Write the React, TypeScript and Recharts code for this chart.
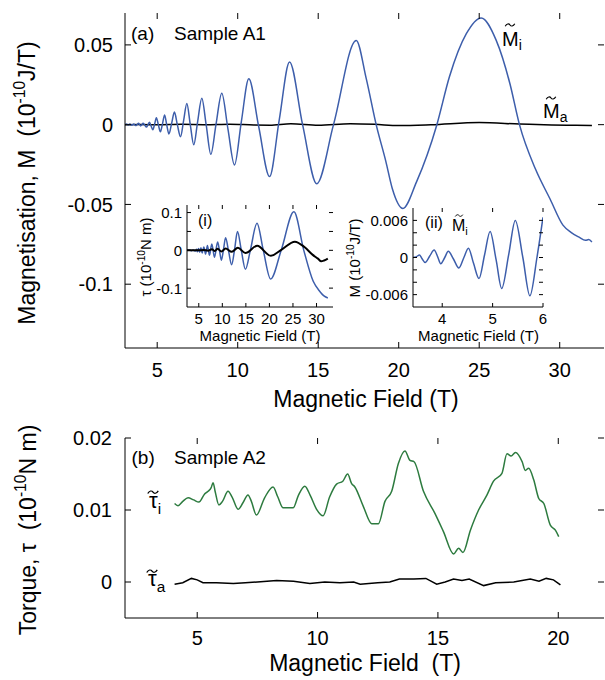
import React from 'react';
import { LineChart, Line, XAxis, YAxis } from 'recharts';

const FONT = '"Liberation Sans", Arial, Helvetica, sans-serif';
const BLUE = '#3d5eab';
const GREEN = '#2d7b3f';
const BLACK = '#000000';

// ---------- Panel (a): Sample A1, magnetisation ----------
const A_X_TICKS = [5, 10, 15, 20, 25, 30];
const A_Y_TICKS = [-0.1, -0.05, 0, 0.05];
const A_Y_LABELS = ['-0.1', '-0.05', '0', '0.05'];

const A_MI: number[][] = [
  [3.0, 0.0], [3.1, 0.0004], [3.2, -0.0003], [3.3, 0.0004], [3.42, -0.0003], [3.55, 0.0004],
  [3.66, -0.0006], [3.75, 0.0], [3.84, 0.0009], [3.91, 0.0], [3.97, -0.0008], [4.05, 0.0],
  [4.12, 0.0009], [4.22, -0.0002], [4.33, -0.0015], [4.43, 0.0], [4.52, 0.0015], [4.62, -0.0008],
  [4.73, -0.0032], [4.84, 0.0004], [4.95, 0.0044], [5.07, 0.0], [5.2, -0.0045], [5.33, 0.0006],
  [5.46, 0.006], [5.59, 0.0], [5.73, -0.0058], [5.9, 0.001], [6.07, 0.0079], [6.25, 0.0],
  [6.45, -0.0076], [6.64, 0.0025], [6.84, 0.0133], [7.05, 0.0004], [7.27, -0.0126], [7.51, 0.0018],
  [7.77, 0.0166], [8.04, 0.0], [8.33, -0.0186], [8.65, 0.0], [9.01, 0.0197], [9.39, -0.0025],
  [9.8, -0.0253], [10.22, 0.0015], [10.69, 0.0288], [11.3, -0.001], [11.98, -0.0325], [12.58, 0.003],
  [13.22, 0.0393], [14.03, 0.0], [14.91, -0.037], [15.95, 0.0], [17.36, 0.0528], [17.98, 0.029],
  [18.6, 0.0], [19.2, -0.023], [19.6, -0.04], [20.26, -0.0525], [21.1, -0.036], [22.37, 0.0],
  [23.15, 0.03], [24.2, 0.057], [25.12, 0.0669], [26.05, 0.053], [26.9, 0.026], [27.5, 0.0],
  [28.5, -0.028], [29.4, -0.0466], [30.2, -0.063], [30.7, -0.0675], [31.2, -0.0705], [31.6, -0.0725],
  [31.8, -0.072], [32.0, -0.0735],
];

const A_MA: number[][] = [
  [3.0, 0.0], [4.0, 0.0001], [5.0, -0.0001], [6.5, 0.0002], [8.0, 0.0], [9.5, 0.0003],
  [11.0, -0.0002], [12.0, -0.0003], [13.3, 0.0006], [15.0, -0.0004], [17.0, 0.0006], [18.5, 0.0002],
  [20.0, -0.0006], [22.0, -0.0001], [25.0, 0.0013], [27.5, 0.0004], [29.5, -0.0002], [31.0, -0.0004],
  [32.0, -0.0005],
];

// ---------- Inset (i): torque ----------
const I_X_TICKS = [5, 10, 15, 20, 25, 30];
const I_Y_TICKS = [-0.1, -0.05, 0, 0.05, 0.1];
const I_Y_LABELED = [-0.1, 0, 0.1];
const I_Y_LABELS = ['-0.1', '0', '0.1'];

const I_TI: number[][] = [
  [2.5, 0.0], [3.0, 0.001], [3.4, -0.001], [3.8, 0.0012], [4.1, -0.0015], [4.33, -0.002],
  [4.52, 0.003], [4.73, -0.004], [4.95, 0.005], [5.2, -0.005], [5.46, 0.007], [5.73, -0.007],
  [6.07, 0.009], [6.45, -0.01], [6.84, 0.013], [7.27, -0.013], [7.77, 0.017], [8.33, -0.018],
  [9.01, 0.022], [9.39, 0.0], [9.8, -0.026], [10.22, 0.0], [10.69, 0.033], [11.3, 0.0],
  [11.98, -0.038], [12.58, 0.0], [13.22, 0.05], [14.03, 0.0], [14.91, -0.05], [15.95, 0.0],
  [17.36, 0.072], [18.7, 0.0], [20.26, -0.076], [22.5, 0.0], [25.2, 0.102], [27.3, 0.0],
  [29.3, -0.082], [30.7, -0.109], [31.5, -0.12], [32.4, -0.126],
];

const I_TA: number[][] = [
  [2.5, 0.0], [5.0, 0.0], [6.0, 0.001], [7.0, -0.001], [7.8, 0.003], [8.4, -0.002],
  [9.0, 0.004], [9.8, -0.003], [10.7, 0.005], [12.0, -0.004], [13.3, 0.007], [14.9, -0.007],
  [17.4, 0.012], [20.3, -0.0145], [22.6, 0.002], [25.4, 0.023], [27.5, 0.008], [29.2, -0.012],
  [30.3, -0.022], [31.0, -0.029], [31.6, -0.027], [32.4, -0.022],
];

// ---------- Inset (ii): low-field magnetisation ----------
const II_X_TICKS = [4, 5, 6];
const II_Y_TICKS = [-0.006, -0.004, -0.002, 0, 0.002, 0.004, 0.006];
const II_Y_LABELED = [-0.006, 0, 0.006];
const II_Y_LABELS = ['-0.006', '0', '0.006'];

const II_MI: number[][] = [
  [3.42, 0.0], [3.48, 0.0001], [3.55, 0.0004], [3.6, -0.0002], [3.66, -0.0008], [3.75, 0.0002],
  [3.84, 0.0012], [3.91, 0.0001], [3.97, -0.001], [4.05, 0.0], [4.12, 0.001], [4.22, -0.0002],
  [4.33, -0.0017], [4.43, 0.0], [4.52, 0.0015], [4.62, -0.0009], [4.73, -0.0034], [4.84, 0.0004],
  [4.95, 0.0042], [5.07, -0.0004], [5.18, -0.005], [5.32, 0.0005], [5.45, 0.006], [5.6, 0.0],
  [5.74, -0.0062], [5.88, 0.0], [6.0, 0.0065],
];

// ---------- Panel (b): Sample A2, torque ----------
const B_X_TICKS = [5, 10, 15, 20];
const B_Y_TICKS = [0, 0.01, 0.02];
const B_Y_LABELS = ['0', '0.01', '0.02'];

const B_TI: number[][] = [
  [4.06, 0.0109], [4.2, 0.0106], [4.4, 0.0112], [4.62, 0.0117], [4.85, 0.0114], [5.07, 0.0111],
  [5.3, 0.0122], [5.45, 0.0126], [5.58, 0.0131], [5.66, 0.0138], [5.75, 0.0125], [5.9, 0.0107],
  [6.05, 0.0112], [6.28, 0.0126], [6.45, 0.0118], [6.7, 0.0101], [6.9, 0.011], [7.11, 0.0121],
  [7.25, 0.0112], [7.46, 0.0093], [7.8, 0.0117], [8.15, 0.0132], [8.35, 0.0118], [8.57, 0.0103],
  [8.99, 0.0103], [9.2, 0.012], [9.47, 0.0133], [9.7, 0.012], [9.96, 0.0101], [10.23, 0.0092],
  [10.5, 0.0118], [10.79, 0.0136], [11.05, 0.014], [11.25, 0.015], [11.41, 0.0137], [11.55, 0.0132],
  [11.9, 0.0105], [12.25, 0.0081], [12.53, 0.0081], [12.8, 0.0112], [13.08, 0.0126], [13.36, 0.0165],
  [13.63, 0.0182], [13.84, 0.0169], [14.01, 0.0167], [14.4, 0.0126], [14.88, 0.0095], [15.23, 0.007],
  [15.65, 0.0039], [15.86, 0.0047], [16.04, 0.0041], [16.35, 0.0072], [16.69, 0.01], [17.04, 0.0121],
  [17.31, 0.014], [17.66, 0.0151], [17.87, 0.0178], [18.04, 0.0175], [18.22, 0.018], [18.5, 0.0167],
  [18.63, 0.0155], [18.77, 0.0158], [18.98, 0.0142], [19.19, 0.0116], [19.4, 0.0109], [19.67, 0.0079],
  [19.88, 0.0072], [20.02, 0.0063],
];

const B_TA: number[][] = [
  [4.06, -0.0003], [4.4, -0.0001], [4.76, 0.0005], [5.0, 0.0003], [5.24, -0.0001], [5.8, -0.0001],
  [6.5, -0.0002], [7.0, -0.0001], [7.5, 0.0], [8.3, 0.0002], [9.0, 0.0001], [9.68, -0.0002],
  [10.3, 0.0], [10.93, -0.0001], [11.5, 0.0], [11.77, -0.0003], [12.5, -0.0001], [13.0, 0.0],
  [13.4, 0.0004], [14.0, 0.0004], [14.5, 0.0005], [14.95, -0.0003], [15.3, 0.0], [15.65, 0.0004],
  [16.0, 0.0002], [16.3, 0.0004], [16.9, -0.0005], [17.4, -0.0001], [18.15, 0.0], [18.84, 0.0004],
  [19.2, 0.0001], [19.5, 0.0005], [19.8, 0.0003], [20.09, -0.0004],
];

const toPts = (arr: number[][]) => arr.map(([b, v]) => ({ b, v }));

type Box = { l: number; t: number; r: number; b: number };

function labelFor(v: number, vals: number[], labels: string[]): string | null {
  const i = vals.findIndex((x) => Math.abs(x - v) < 1e-9);
  return i >= 0 ? labels[i] : null;
}

function makeXTick(box: Box, len: number, fs: number, base: number) {
  return (p: any) => {
    const x = p.x;
    const v = p.payload.value;
    return (
      <g>
        <line x1={x} x2={x} y1={box.b} y2={box.b - len} stroke={BLACK} strokeWidth={1} />
        <line x1={x} x2={x} y1={box.t} y2={box.t + len} stroke={BLACK} strokeWidth={1} />
        <text x={x} y={box.b + base} textAnchor="middle" fontSize={fs} fontFamily={FONT} fill={BLACK}>
          {String(v)}
        </text>
      </g>
    );
  };
}

function makeYTick(box: Box, len: number, fs: number, gap: number, vals: number[], labels: string[]) {
  return (p: any) => {
    const y = p.y;
    const v = p.payload.value;
    const lab = labelFor(v, vals, labels);
    return (
      <g>
        <line x1={box.l} x2={box.l + len} y1={y} y2={y} stroke={BLACK} strokeWidth={1} />
        <line x1={box.r - len} x2={box.r} y1={y} y2={y} stroke={BLACK} strokeWidth={1} />
        {lab !== null && (
          <text x={box.l - gap} y={y + fs * 0.36} textAnchor="end" fontSize={fs} fontFamily={FONT} fill={BLACK}>
            {lab}
          </text>
        )}
      </g>
    );
  };
}

type Series = { data: { b: number; v: number }[]; color: string; width: number; curve: 'monotone' | 'linear' };

function Panel(props: {
  width: number; height: number; box: Box;
  xDomain: [number, number]; yDomain: [number, number];
  xTicks: number[]; yTicks: number[]; yVals: number[]; yLabels: string[];
  len: number; fs: number; xBase: number; yGap: number; series: Series[];
}) {
  const { width, height, box, xDomain, yDomain, xTicks, yTicks, yVals, yLabels, len, fs, xBase, yGap, series } = props;
  return (
    <LineChart width={width} height={height} margin={{ top: box.t, right: width - box.r, bottom: 0, left: 0 }}>
      <XAxis
        xAxisId={0} dataKey="b" type="number" domain={xDomain} allowDataOverflow ticks={xTicks} interval={0}
        height={height - box.b} tickSize={0} tickLine={false} axisLine={{ stroke: BLACK }}
        tick={makeXTick(box, len, fs, xBase)}
      />
      <XAxis
        xAxisId="top" orientation="top" dataKey="b" type="number" domain={xDomain} allowDataOverflow
        height={0} tick={false} tickLine={false} axisLine={{ stroke: BLACK }}
      />
      <YAxis
        yAxisId={0} type="number" domain={yDomain} allowDataOverflow ticks={yTicks} interval={0}
        width={box.l} tickSize={0} tickLine={false} axisLine={{ stroke: BLACK }}
        tick={makeYTick(box, len, fs, yGap, yVals, yLabels)}
      />
      <YAxis
        yAxisId="right" orientation="right" type="number" domain={yDomain} allowDataOverflow
        width={0} tick={false} tickLine={false} axisLine={{ stroke: BLACK }}
      />
      {series.map((s, i) => (
        <Line
          key={i} xAxisId={0} yAxisId={0} data={s.data} dataKey="v" type={s.curve}
          stroke={s.color} strokeWidth={s.width} dot={false} activeDot={false} isAnimationActive={false}
        />
      ))}
    </LineChart>
  );
}

const Txt = (p: { x: number; base: number; fs: number; center?: boolean; children: React.ReactNode }) => (
  <div
    style={{
      position: 'absolute', left: p.x, top: p.base - 0.8465 * p.fs, fontSize: p.fs, lineHeight: 1,
      fontFamily: FONT, whiteSpace: 'nowrap', color: '#000',
      transform: p.center ? 'translateX(-50%)' : undefined,
    }}
  >
    {p.children}
  </div>
);

const Rot = (p: { cx: number; cy: number; fs: number; children: React.ReactNode }) => (
  <div
    style={{
      position: 'absolute', left: p.cx, top: p.cy, fontSize: p.fs, lineHeight: 1, fontFamily: FONT,
      whiteSpace: 'nowrap', color: '#000', transform: 'translate(-50%, -50%) rotate(-90deg)',
    }}
  >
    {p.children}
  </div>
);

const Sup = ({ children }: { children: React.ReactNode }) => (
  <span style={{ fontSize: '0.68em', position: 'relative', top: '-0.62em' }}>{children}</span>
);
const Sub = ({ children, shift = 0.35 }: { children: React.ReactNode; shift?: number }) => (
  <span style={{ fontSize: '0.7em', position: 'relative', top: `${shift}em` }}>{children}</span>
);
// letter with a tilde accent (drawn as a small stroke, not text) above it
const Tl = ({ ch, top = -0.17 }: { ch: string; top?: number }) => (
  <span style={{ position: 'relative', display: 'inline-block' }}>
    {ch}
    <svg
      viewBox="0 0 12 5" preserveAspectRatio="none"
      style={{ position: 'absolute', left: '50%', top: `${top}em`, width: '0.55em', height: '0.2em', transform: 'translateX(-50%)', overflow: 'visible' }}
    >
      <path d="M0.8,4 C2.5,0.6 4.8,0.4 6,2.4 S9.5,4.4 11.2,1" fill="none" stroke="#000" strokeWidth={1.3} />
    </svg>
  </span>
);

export default function App() {
  const boxA: Box = { l: 125, t: 13, r: 604, b: 348 };
  const boxB: Box = { l: 125, t: 18, r: 604, b: 198 };
  const boxI: Box = { l: 67, t: 10, r: 213, b: 112 };
  const boxII: Box = { l: 73, t: 10, r: 203, b: 109 };

  return (
    <div style={{ position: 'absolute', left: 0, top: 0, width: 605, height: 680, background: '#fff', overflow: 'hidden', fontFamily: FONT }}>
      <div style={{ position: 'absolute', left: 0, top: 0 }}>
        <Panel
          width={605} height={420} box={boxA} xDomain={[3, 32.75]} yDomain={[-0.14, 0.07]}
          xTicks={A_X_TICKS} yTicks={A_Y_TICKS} yVals={A_Y_TICKS} yLabels={A_Y_LABELS}
          len={6} fs={20} xBase={29} yGap={12}
          series={[
            { data: toPts(A_MA), color: BLACK, width: 1.5, curve: 'monotone' },
            { data: toPts(A_MI), color: BLUE, width: 1.5, curve: 'monotone' },
          ]}
        />
      </div>
      <div style={{ position: 'absolute', left: 0, top: 420 }}>
        <Panel
          width={605} height={260} box={boxB} xDomain={[2, 21.9]} yDomain={[-0.005, 0.02]}
          xTicks={B_X_TICKS} yTicks={B_Y_TICKS} yVals={B_Y_TICKS} yLabels={B_Y_LABELS}
          len={6} fs={20} xBase={27} yGap={13}
          series={[
            { data: toPts(B_TA), color: BLACK, width: 1.5, curve: 'linear' },
            { data: toPts(B_TI), color: GREEN, width: 1.5, curve: 'monotone' },
          ]}
        />
      </div>
      <div style={{ position: 'absolute', left: 120, top: 195 }}>
        <Panel
          width={224} height={152} box={boxI} xDomain={[2.5, 33.5]} yDomain={[-0.15, 0.12]}
          xTicks={I_X_TICKS} yTicks={I_Y_TICKS} yVals={I_Y_LABELED} yLabels={I_Y_LABELS}
          len={4} fs={15} xBase={16.5} yGap={5}
          series={[
            { data: toPts(I_TI), color: BLUE, width: 1.5, curve: 'monotone' },
            { data: toPts(I_TA), color: BLACK, width: 2, curve: 'monotone' },
          ]}
        />
      </div>
      <div style={{ position: 'absolute', left: 340, top: 198 }}>
        <Panel
          width={216} height={150} box={boxII} xDomain={[3.42, 6]} yDomain={[-0.008, 0.008]}
          xTicks={II_X_TICKS} yTicks={II_Y_TICKS} yVals={II_Y_LABELED} yLabels={II_Y_LABELS}
          len={4} fs={15} xBase={16.5} yGap={5}
          series={[{ data: toPts(II_MI), color: BLUE, width: 1.5, curve: 'monotone' }]}
        />
      </div>

      {/* Axis titles */}
      <Rot cx={27} cy={183} fs={23}>
        Magnetisation, M&nbsp;&nbsp;(10<Sup>-10</Sup>J/T)
      </Rot>
      <Txt x={366} base={407} fs={23} center>Magnetic Field (T)</Txt>
      <Rot cx={28} cy={530} fs={23}>
        Torque, τ&nbsp;&nbsp;(10<Sup>-10</Sup>N m)
      </Rot>
      <Txt x={365} base={671.5} fs={23} center>Magnetic Field&nbsp;&nbsp;(T)</Txt>

      <Rot cx={146} cy={257} fs={15}>
        τ (10<Sup>-10</Sup>N m)
      </Rot>
      <Txt x={260} base={340.3} fs={15} center>Magnetic Field (T)</Txt>
      <Rot cx={355} cy={257.5} fs={15}>
        M (10<Sup>-10</Sup>J/T)
      </Rot>
      <Txt x={478.5} base={340.3} fs={15} center>Magnetic Field (T)</Txt>

      {/* Annotations */}
      <Txt x={131} base={40.5} fs={19}>(a)</Txt>
      <Txt x={174} base={40.5} fs={19}>Sample A1</Txt>
      <Txt x={502} base={45.5} fs={20}><Tl ch="M" top={-0.26} /><Sub shift={0.3}>i</Sub></Txt>
      <Txt x={543} base={118} fs={20}><Tl ch="M" top={-0.26} /><Sub shift={0.3}>a</Sub></Txt>
      <Txt x={198} base={227} fs={16}>(i)</Txt>
      <Txt x={425} base={228.5} fs={16}>(ii)</Txt>
      <Txt x={452} base={232} fs={16}><Tl ch="M" top={-0.28} /><Sub shift={0.3}>i</Sub></Txt>
      <Txt x={131.5} base={464} fs={19}>(b)</Txt>
      <Txt x={174} base={464} fs={19}>Sample A2</Txt>
      <Txt x={149} base={508.5} fs={22}><Tl ch="τ" top={0.02} /><Sub shift={0.4}>i</Sub></Txt>
      <Txt x={148} base={586.7} fs={22}><Tl ch="τ" top={0.02} /><Sub shift={0.4}>a</Sub></Txt>
    </div>
  );
}
